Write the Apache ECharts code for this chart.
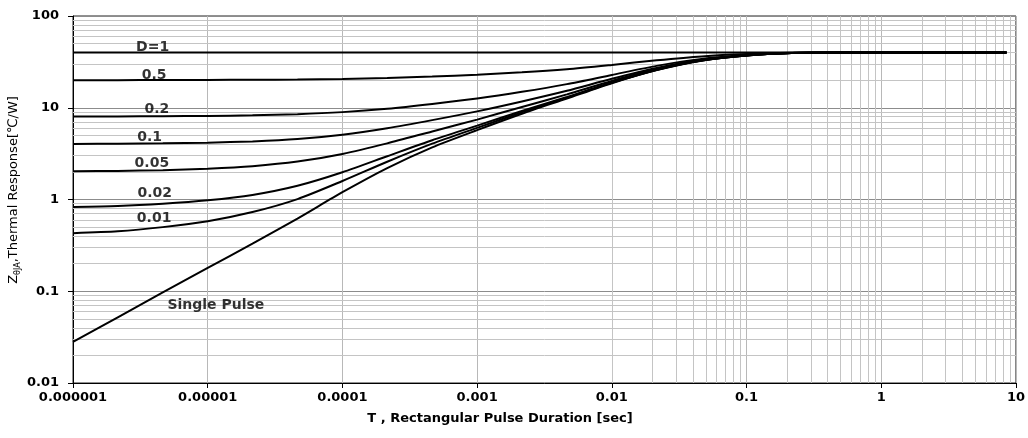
<!DOCTYPE html>
<html>
<head>
<meta charset="utf-8">
<script src="https://cdn.jsdelivr.net/npm/echarts@6/dist/echarts.min.js"></script>
<style>
html,body{margin:0;padding:0;background:#fff;}
#chart{width:1028px;height:438px;}
</style>
</head>
<body>
<div id="chart"></div>
<script>
// Pulse duration T [sec]
const pulseDurations = [1e-6, 2.15e-6, 4.64e-6, 1e-5, 2.15e-5, 4.64e-5, 1e-4, 2.15e-4, 4.64e-4, 1e-3, 2.15e-3, 4.64e-3, 1e-2, 2.15e-2, 4.64e-2, 0.1, 0.215, 0.464, 1, 2.15, 4.64, 8.5];

// Thermal response Z [C/W] per duty cycle
const zD1    = [40, 40, 40, 40, 40, 40, 40, 40, 40, 40, 40, 40, 40, 40, 40, 40, 40, 40, 40, 40, 40, 40];
const zD05   = [20.0, 20.0, 20.05, 20.1, 20.2, 20.3, 20.6, 21.1, 21.9, 22.9, 24.3, 26.3, 29.3, 32.9, 36.3, 38.5, 39.7, 40, 40, 40, 40, 40];
const zD02   = [8.02, 8.04, 8.08, 8.14, 8.26, 8.50, 8.96, 9.76, 11.0, 12.6, 14.9, 18.1, 22.8, 28.6, 34.1, 37.6, 39.5, 40, 40, 40, 40, 40];
const zD01   = [4.03, 4.05, 4.09, 4.16, 4.30, 4.56, 5.08, 5.98, 7.33, 9.13, 11.7, 15.3, 20.7, 27.1, 33.3, 37.3, 39.5, 40, 40, 40, 40, 40];
const zD005  = [2.03, 2.05, 2.09, 2.17, 2.31, 2.59, 3.14, 4.09, 5.52, 7.42, 10.2, 14.0, 19.6, 26.4, 33.0, 37.2, 39.4, 40, 40, 40, 40, 40];
const zD002  = [0.83, 0.85, 0.90, 0.98, 1.12, 1.41, 1.98, 2.96, 4.43, 6.39, 9.23, 13.1, 18.9, 26.0, 32.7, 37.1, 39.4, 40, 40, 40, 40, 40];
const zD001  = [0.43, 0.45, 0.50, 0.58, 0.73, 1.01, 1.59, 2.58, 4.06, 6.04, 8.91, 12.9, 18.7, 25.8, 32.7, 37.0, 39.4, 40, 40, 40, 40, 40];
const zSingle = [0.028, 0.052, 0.097, 0.18, 0.33, 0.62, 1.2, 2.2, 3.7, 5.7, 8.6, 12.6, 18.5, 25.7, 32.6, 37.0, 39.4, 40, 40, 40, 40, 40];

const seriesNames = ['D=1', '0.5', '0.2', '0.1', '0.05', '0.02', '0.01', 'Single Pulse'];
const seriesValues = [zD1, zD05, zD02, zD01, zD005, zD002, zD001, zSingle];

// Tick labels
const xTickLabels = ['0.000001', '0.00001', '0.0001', '0.001', '0.01', '0.1', '1', '10'];
const yTickLabels = ['0.01', '0.1', '1', '10', '100'];

// Curve labels, anchored in data coordinates [T, Z]
const annotationTexts = ['D=1', '0.5', '0.2', '0.1', '0.05', '0.02', '0.01', 'Single Pulse'];
const annotationT = [3.9e-6, 4.0e-6, 4.2e-6, 3.7e-6, 3.85e-6, 4.05e-6, 4.0e-6, 1.15e-5];
const annotationZ = [45.9, 22.7, 9.7, 4.8, 2.5, 1.18, 0.63, 0.071];

const chart = echarts.init(document.getElementById('chart'), null, {renderer: 'canvas'});

const minorX = [];
for (let e = -6; e <= 0; e++) for (let m = 2; m <= 9; m++) minorX.push({xAxis: m * Math.pow(10, e)});
const minorY = [];
for (let e = -2; e <= 1; e++) for (let m = 2; m <= 9; m++) minorY.push({yAxis: m * Math.pow(10, e)});

const curveSeries = seriesNames.map((name, i) => ({
  name: name,
  type: 'line',
  data: pulseDurations.map((t, j) => [t, seriesValues[i][j]]),
  showSymbol: false,
  symbol: 'none',
  smooth: 0.25,
  lineStyle: {color: '#000', width: 2},
  z: 5,
  silent: true
}));

const FONT_BOLD = 'DejaVu Sans';

chart.setOption({
  animation: false,
  backgroundColor: '#fff',
  grid: {left: 73, right: 11, top: 16, bottom: 55, show: true, borderColor: '#222', borderWidth: 1},
  xAxis: {
    type: 'log', logBase: 10, min: 1e-6, max: 10, splitNumber: 7,
    axisLine: {show: true, onZero: false, lineStyle: {color: '#000', width: 1}},
    axisTick: {show: true, length: 5, lineStyle: {color: '#000'}},
    axisLabel: {
      margin: 8, color: '#000', fontFamily: FONT_BOLD, fontWeight: 'bold', fontSize: 13,
      formatter: v => xTickLabels[Math.round(Math.log10(v)) + 6]
    },
    splitLine: {show: true, lineStyle: {color: '#b8b8b8', width: 1}}
  },
  yAxis: {
    type: 'log', logBase: 10, min: 0.01, max: 100, splitNumber: 4,
    axisLine: {show: true, onZero: false, lineStyle: {color: '#000', width: 1}},
    axisTick: {show: true, length: 5, lineStyle: {color: '#000'}},
    axisLabel: {
      margin: 14, color: '#000', fontFamily: FONT_BOLD, fontWeight: 'bold', fontSize: 13,
      formatter: v => yTickLabels[Math.round(Math.log10(v)) + 2]
    },
    splitLine: {show: true, lineStyle: {color: '#8c8c8c', width: 1}}
  },
  graphic: [
    {
      type: 'text', x: 12, y: 190, rotation: Math.PI / 2, silent: true,
      style: {
        text: '{a|Z}{s|θJA}{a|,Thermal Response[℃/W]}',
        align: 'center', verticalAlign: 'middle',
        rich: {
          a: {fontFamily: 'DejaVu Sans', fontSize: 13, fill: '#000', verticalAlign: 'bottom', lineHeight: 16},
          s: {fontFamily: 'DejaVu Sans', fontSize: 8, fill: '#000', verticalAlign: 'bottom', lineHeight: 16, padding: [0, 0, -2, 0]}
        }
      }
    },
    {
      type: 'text', x: 500, y: 419, silent: true,
      style: {
        text: 'T , Rectangular Pulse Duration [sec]',
        align: 'center', verticalAlign: 'middle',
        fontFamily: FONT_BOLD, fontWeight: 'bold', fontSize: 13, fill: '#000'
      }
    }
  ],
  series: [
    {
      name: 'grid', type: 'line', data: [], silent: true, z: 1,
      markLine: {
        silent: true, symbol: ['none', 'none'], animation: false,
        label: {show: false},
        lineStyle: {color: '#c4c4c4', width: 1, type: 'solid'},
        emphasis: {disabled: true},
        data: minorX.concat(minorY)
      }
    },
    ...curveSeries,
    {
      name: 'annotations', type: 'scatter', silent: true, z: 6,
      symbolSize: 1, itemStyle: {color: 'rgba(0,0,0,0)'},
      data: annotationTexts.map((txt, i) => ({name: txt, value: [annotationT[i], annotationZ[i]]})),
      label: {
        show: true, position: 'inside', formatter: p => p.name,
        color: '#000', fontFamily: FONT_BOLD, fontWeight: 'bold',
        fontSize: 14
      }
    }
  ]
});
</script>
</body>
</html>
